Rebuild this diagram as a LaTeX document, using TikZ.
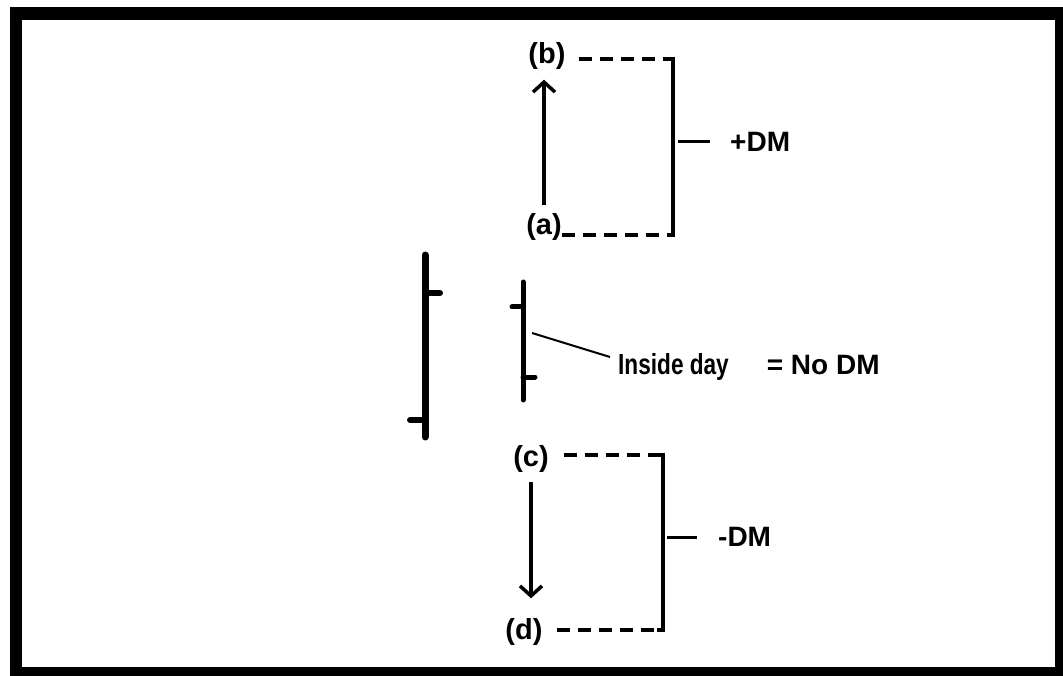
\documentclass[tikz,border=0pt]{standalone}
\usepackage{fontspec}
\newfontfamily\lblw{Liberation Sans}
\newfontfamily\lbln{Liberation Sans}[FakeStretch=0.78]
\usetikzlibrary{arrows.meta}
\begin{document}
\begin{tikzpicture}[x=1pt,y=-1pt,
  lab/.style={font=\lblw\bfseries\fontsize{29}{30}\selectfont, inner sep=0pt},
  dmlab/.style={font=\lblw\bfseries\fontsize{28}{30}\selectfont, inner sep=0pt, anchor=west},
  dsh/.style={line width=3.5pt, dash pattern=on 13pt off 8pt},
  brk/.style={line width=4pt},
  tick/.style={line width=3pt},
  movearrow/.style={line width=3.5pt, -{Straight Barb[length=10pt,width=22pt,line width=3.5pt]}},
  bigbar/.style={line width=7pt, line cap=round},
  smallbar/.style={line width=5pt, line cap=round},
  leader/.style={line width=2pt}]
\useasboundingbox (0,0) rectangle (1063,676);
\draw[line width=12.5pt] (16,13.5) rectangle (1061,673.5);

% upper part
\node[lab] (b) at (547,56) {(b)};
\node[lab] (a) at (544,227) {(a)};
\coordinate (bt) at (673,59);
\coordinate (ab) at (673,235);
\draw[movearrow, shorten <=8pt, shorten >=10pt] (a.north) -- (a.north |- b.south);
\draw[dsh, shorten <=13pt] (b.east |- bt) -- (bt);
\draw[dsh] (a.east |- ab) -- (ab);
\draw[brk] ([xshift=-6pt]bt) -- (bt) -- (ab) -- ([xshift=-6pt]ab);
\coordinate (pt1) at (678,142);
\coordinate (pt2) at (710,142);
\draw[tick] (pt1) -- (pt2);
\node[dmlab] (pdm) at (730,142) {+DM};

% middle bars
\draw[bigbar] (425,255) -- (425,437);
\draw[bigbar, line width=6pt] (425,293) -- (440,293);
\draw[bigbar, line width=6pt] (410,420) -- (425,420);
\draw[smallbar] (523,282) -- (523,400);
\draw[smallbar] (512,307) -- (523,307);
\draw[smallbar] (523,377) -- (535,377);
\coordinate (sb) at (532,333);
\node[inner sep=0pt, anchor=west] (inside) at (618,367)
  {{\lbln\bfseries\fontsize{29}{30}\selectfont Inside day}\hspace{38pt}{\lblw\bfseries\fontsize{28}{30}\selectfont = No DM}};
\draw[leader] (sb) -- ([xshift=-8pt,yshift=10pt]inside.west);

% lower part
\node[lab] (c) at (531,459) {(c)};
\node[lab] (d) at (524,632) {(d)};
\coordinate (ct) at (663,455);
\coordinate (db) at (663,630);
\draw[movearrow, shorten <=9pt, shorten >=20pt] (c.south) -- (c.south |- d.north);
\draw[dsh, shorten <=15pt] (c.east |- ct) -- (ct);
\draw[dsh, shorten <=14pt] (d.east |- db) -- (db);
\draw[brk] ([xshift=-6pt]ct) -- (ct) -- (db) -- ([xshift=-6pt]db);
\coordinate (mt1) at (667,537);
\coordinate (mt2) at (697,537);
\draw[tick] (mt1) -- (mt2);
\node[dmlab] (mdm) at (718,537) {-DM};
\end{tikzpicture}
\end{document}
